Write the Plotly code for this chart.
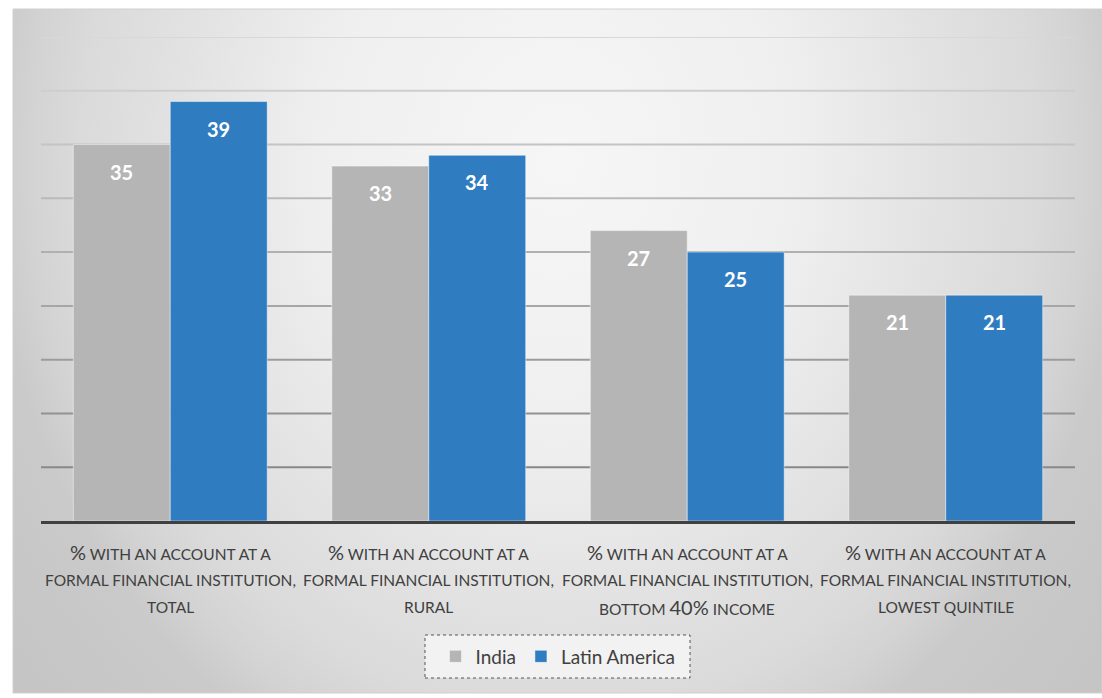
import base64
import plotly.graph_objects as go

# ---------------- data ----------------
categories = [
    "% with an account at a formal financial institution, total",
    "% with an account at a formal financial institution, rural",
    "% with an account at a formal financial institution, bottom 40% income",
    "% with an account at a formal financial institution, lowest quintile",
]
category_lines = [
    ["% WITH AN ACCOUNT AT A", "FORMAL FINANCIAL INSTITUTION,", "TOTAL"],
    ["% WITH AN ACCOUNT AT A", "FORMAL FINANCIAL INSTITUTION,", "RURAL"],
    ["% WITH AN ACCOUNT AT A", "FORMAL FINANCIAL INSTITUTION,", "BOTTOM 40% INCOME"],
    ["% WITH AN ACCOUNT AT A", "FORMAL FINANCIAL INSTITUTION,", "LOWEST QUINTILE"],
]
series_names = ["India", "Latin America"]
india = [35, 33, 27, 21]
latin_america = [39, 34, 25, 21]
grid_values = [5, 10, 15, 20, 25, 30, 35, 40, 45]

# ---------------- styling ----------------
W, H = 1102, 698
ML, MR, MT, MB = 41, 27, 37, 177
PW, PH = W - ML - MR, H - MT - MB
FONT = "Lato"
TEXT_COL = "#404040"
colors = ["#b5b5b5", "#307cc1"]
BARGAP = 0.25

fig = go.Figure()
for name, vals, col in zip(series_names, [india, latin_america], colors):
    fig.add_trace(go.Bar(
        x=categories, y=vals, name=name,
        marker=dict(color=col, line=dict(color="rgba(255,255,255,0.45)", width=1)),
        hoverinfo="x+y+name",
    ))

# data labels near the top of each bar
cat_px = PW / len(categories)
bar_px = cat_px * (1 - BARGAP) / 2
annotations = []
for si, vals in enumerate([india, latin_america]):
    shift = (si - 0.5) * bar_px
    for c, v in zip(categories, vals):
        annotations.append(dict(
            x=c, y=v, xref="x", yref="y", text=f"<b>{v}</b>", showarrow=False,
            xshift=shift, yshift=-13, yanchor="top",
            font=dict(family=FONT, size=20, color="white"),
        ))


def styled(line):
    out = []
    for tok in line.split(" "):
        if any(ch.isdigit() or ch == "%" for ch in tok):
            out.append(f"<span style='font-size:20px'>{tok}</span>")
        else:
            out.append(tok)
    return " ".join(out)


# category labels (three lines each, wide line spacing)
line_offsets = [-31, -59, -86]
for c, lines in zip(categories, category_lines):
    for ln, off in zip(lines, line_offsets):
        annotations.append(dict(
            x=c, y=0, xref="x", yref="paper", text=styled(ln), showarrow=False,
            yshift=off, yanchor="middle", xanchor="center",
            font=dict(family=FONT, size=15.5, color=TEXT_COL),
        ))

# gradient background image (SVG)
IW, IH = 1089, 684
svg = f'''<svg xmlns="http://www.w3.org/2000/svg" width="{IW}" height="{IH}" viewBox="0 0 {IW} {IH}" preserveAspectRatio="none">
<defs><radialGradient id="g" gradientUnits="userSpaceOnUse" cx="545" cy="150" r="690"
gradientTransform="translate(545 150) scale(1 1.1667) translate(-545 -150)">
<stop offset="0" stop-color="#f6f6f6"/>
<stop offset="0.348" stop-color="#efefef"/>
<stop offset="0.539" stop-color="#e3e3e3"/>
<stop offset="0.696" stop-color="#dadada"/>
<stop offset="0.765" stop-color="#d3d3d3"/>
<stop offset="0.826" stop-color="#cacaca"/>
<stop offset="1" stop-color="#c5c5c5"/>
</radialGradient></defs>
<rect width="{IW}" height="{IH}" fill="url(#g)"/></svg>'''
src = "data:image/svg+xml;base64," + base64.b64encode(svg.encode()).decode()

bg_x0, bg_top = 13, 9
images = [dict(
    source=src, xref="paper", yref="paper",
    x=(bg_x0 - ML) / PW, y=(H - MB - bg_top) / PH,
    sizex=IW / PW, sizey=IH / PH, sizing="stretch",
    xanchor="left", yanchor="top", layer="below",
)]

# graded gridlines
shapes = []
n = len(grid_values)
for i, gv in enumerate(grid_values):
    t = i / (n - 1)  # 0 at bottom line, 1 at top
    g = int(round(0x88 + (0xd8 - 0x88) * t))
    shapes.append(dict(
        type="line", xref="paper", yref="y", x0=0, x1=1, y0=gv, y1=gv,
        line=dict(color=f"rgb({g},{g},{g})", width=2), layer="below",
    ))

# outer border of chart area
shapes.append(dict(
    type="rect", xref="paper", yref="paper",
    x0=(bg_x0 - ML) / PW, x1=(bg_x0 + IW - ML) / PW,
    y0=(H - MB - bg_top - IH) / PH, y1=(H - MB - bg_top) / PH,
    line=dict(color="#d0d0d0", width=1), layer="below",
))

# legend box (dashed)
lx0, lx1, ly0, ly1 = 425, 690, 635, 678
shapes.append(dict(
    type="rect", xref="paper", yref="paper",
    x0=(lx0 - ML) / PW, x1=(lx1 - ML) / PW,
    y0=(H - MB - ly1) / PH, y1=(H - MB - ly0) / PH,
    fillcolor="#f2f2f2", line=dict(color="#555555", width=1, dash="dot"),
    layer="above",
))

fig.update_layout(
    width=W, height=H,
    margin=dict(l=ML, r=MR, t=MT, b=MB, pad=0),
    paper_bgcolor="white", plot_bgcolor="rgba(0,0,0,0)",
    barmode="group", bargap=BARGAP, bargroupgap=0,
    font=dict(family=FONT, color=TEXT_COL),
    showlegend=True,
    legend=dict(
        orientation="h", x=0.5, xanchor="center",
        y=(H - MB - (ly0 + ly1) / 2) / PH, yanchor="middle",
        bgcolor="rgba(0,0,0,0)", borderwidth=0,
        font=dict(family=FONT, size=19, color=TEXT_COL),
        itemwidth=30, traceorder="normal",
    ),
    xaxis=dict(
        showticklabels=False, showgrid=False, zeroline=False,
        showline=True, linecolor="#404040", linewidth=3, ticks="",
        fixedrange=True,
    ),
    yaxis=dict(
        range=[0, 45], showticklabels=False, showgrid=False, zeroline=False,
        showline=False, ticks="", fixedrange=True,
    ),
    annotations=annotations, images=images, shapes=shapes,
)

fig.write_html("out.html")
